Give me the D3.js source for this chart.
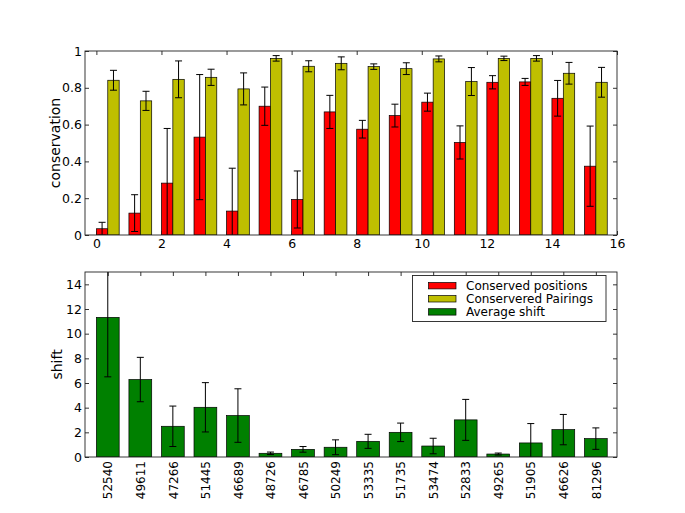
<!DOCTYPE html>
<html>
<head>
<meta charset="utf-8">
<script src="https://cdn.jsdelivr.net/npm/d3@7"></script>
<style>
body { margin: 0; background: #fff; }
text { font-family: 'DejaVu Sans', sans-serif; fill: #000; }
</style>
</head>
<body>
<svg width="685" height="513"></svg>
<script>
// values
let positions    = [0.034, 0.119, 0.282, 0.532, 0.130, 0.700, 0.193, 0.669, 0.575, 0.649, 0.722, 0.503, 0.830, 0.832, 0.743, 0.374]
let positionsErr = [0.035, 0.100, 0.297, 0.340, 0.233, 0.104, 0.155, 0.090, 0.048, 0.062, 0.049, 0.090, 0.036, 0.019, 0.097, 0.218]
let pairings     = [0.841, 0.729, 0.846, 0.857, 0.794, 0.960, 0.917, 0.933, 0.915, 0.904, 0.957, 0.834, 0.960, 0.960, 0.879, 0.830]
let pairingsErr  = [0.054, 0.052, 0.100, 0.044, 0.087, 0.015, 0.030, 0.035, 0.015, 0.032, 0.016, 0.076, 0.012, 0.015, 0.059, 0.081]
let shiftIds = ['52540', '49611', '47266', '51445', '46689', '48726', '46785', '50249', '53335', '51735', '53474', '52833', '49265', '51905', '46626', '81296']
let shift    = [11.32, 6.28, 2.49, 4.03, 3.36, 0.30, 0.62, 0.79, 1.27, 2.00, 0.89, 3.01, 0.24, 1.14, 2.22, 1.49]
let shiftErr = [4.82, 1.80, 1.64, 2.00, 2.17, 0.10, 0.23, 0.60, 0.57, 0.75, 0.63, 1.66, 0.08, 1.57, 1.23, 0.87]
let legendLabels = ['Conserved positions', 'Conservered Pairings', 'Average shift']
let colors = ['#ff0000', '#bfbf00', '#008000']

let svg = d3.select('svg')
let box = {left: 85, right: 617}
let topBox = {top: 51, bottom: 235}
let botBox = {top: 272, bottom: 457}

let xScale = d3.scaleLinear().domain([-0.35, 16]).range([box.left, box.right])
let yTop = d3.scaleLinear().domain([0, 1]).range([topBox.bottom, topBox.top])
let yBot = d3.scaleLinear().domain([0, 15]).range([botBox.bottom, botBox.top])

let defs = svg.append('defs')
function clip(id, b) {
    defs.append('clipPath').attr('id', id)
        .append('rect')
        .attr('x', box.left).attr('y', b.top)
        .attr('width', box.right - box.left).attr('height', b.bottom - b.top)
}
clip('clipTop', topBox)
clip('clipBot', botBox)

// inward ticks on all four sides
function frame(b, xAxisB, xAxisT, yScale, yTicks, yFmt) {
    let g = svg.append('g')
    g.append('g')
        .attr('transform', 'translate(0,' + b.bottom + ')')
        .call(xAxisB)
    g.append('g')
        .attr('transform', 'translate(0,' + b.top + ')')
        .call(xAxisT)
    g.append('g')
        .attr('transform', 'translate(' + box.left + ',0)')
        .call(d3.axisLeft(yScale).tickValues(yTicks).tickFormat(yFmt).tickSizeInner(-4).tickSizeOuter(0).tickPadding(3))
    g.append('g')
        .attr('transform', 'translate(' + box.right + ',0)')
        .call(d3.axisRight(yScale).tickValues(yTicks).tickFormat('').tickSizeInner(-4).tickSizeOuter(0))
    g.selectAll('.domain').remove()
    g.selectAll('.tick line').attr('stroke', '#000').attr('stroke-width', 0.8)
    g.selectAll('.tick text').style('font-size', '12.5px').attr('fill', '#000')
    return g
}

function border(b) {
    svg.append('rect')
        .attr('x', box.left).attr('y', b.top)
        .attr('width', box.right - box.left).attr('height', b.bottom - b.top)
        .attr('fill', 'none').attr('stroke', '#222').attr('stroke-width', 0.9)
}

function errorBars(g, data, xs, ys, errs, yScale) {
    let eb = g.selectAll(null).data(data).enter().append('g')
        .attr('stroke', '#000').attr('stroke-width', 1)
    eb.append('line')
        .attr('x1', (d, i) => xScale(xs(i))).attr('x2', (d, i) => xScale(xs(i)))
        .attr('y1', (d, i) => yScale(ys[i] - errs[i])).attr('y2', (d, i) => yScale(ys[i] + errs[i]))
    ;[1, -1].forEach(s => {
        eb.append('line')
            .attr('x1', (d, i) => xScale(xs(i)) - 3.5).attr('x2', (d, i) => xScale(xs(i)) + 3.5)
            .attr('y1', (d, i) => yScale(ys[i] + s * errs[i])).attr('y2', (d, i) => yScale(ys[i] + s * errs[i]))
    })
}

//Top panel
let w = 0.35
let idx = d3.range(positions.length)
let evenTicks = d3.range(0, 17, 2)
frame(topBox,
    d3.axisBottom(xScale).tickValues(evenTicks).tickFormat(d3.format('d')).tickSizeInner(-4).tickSizeOuter(0).tickPadding(4),
    d3.axisTop(xScale).tickValues(evenTicks).tickFormat('').tickSizeInner(-4).tickSizeOuter(0),
    yTop, d3.range(0, 1.01, 0.2), d => +d.toFixed(1) + '')

let topG = svg.append('g').attr('clip-path', 'url(#clipTop)')
;[[positions, positionsErr, 0, colors[0]], [pairings, pairingsErr, w, colors[1]]].forEach(([vals, errs, off, col]) => {
    topG.selectAll(null).data(vals).enter().append('rect')
        .attr('x', (d, i) => xScale(i + off))
        .attr('y', d => yTop(d))
        .attr('width', xScale(w) - xScale(0))
        .attr('height', d => yTop(0) - yTop(d))
        .attr('fill', col)
        .attr('stroke', '#000').attr('stroke-width', 0.7)
    errorBars(topG, vals, i => i + off + w / 2, vals, errs, yTop)
})
border(topBox)

svg.append('text')
    .attr('text-anchor', 'middle')
    .attr('transform', 'translate(60,' + (topBox.top + topBox.bottom) / 2 + ') rotate(-90)')
    .style('font-size', '14px')
    .text('conservation')

//Bottom panel
let bw = 0.7
let centers = idx.map(i => i + bw / 2)
let botAxis = frame(botBox,
    d3.axisBottom(xScale).tickValues(centers).tickFormat((d, i) => shiftIds[i]).tickSizeInner(-4).tickSizeOuter(0),
    d3.axisTop(xScale).tickValues(centers).tickFormat('').tickSizeInner(-4).tickSizeOuter(0),
    yBot, d3.range(0, 15, 2), d3.format('d'))
botAxis.select('g').selectAll('.tick text')
    .attr('transform', 'rotate(-90)')
    .attr('text-anchor', 'end')
    .attr('x', -4).attr('y', 0).attr('dy', '0.35em')
    .style('font-size', '12px')

let botG = svg.append('g').attr('clip-path', 'url(#clipBot)')
botG.selectAll(null).data(shift).enter().append('rect')
    .attr('x', (d, i) => xScale(i))
    .attr('y', d => yBot(d))
    .attr('width', xScale(bw) - xScale(0))
    .attr('height', d => yBot(0) - yBot(d))
    .attr('fill', colors[2])
    .attr('stroke', '#000').attr('stroke-width', 0.7)
errorBars(botG, shift, i => i + bw / 2, shift, shiftErr, yBot)
border(botBox)

svg.append('text')
    .attr('text-anchor', 'middle')
    .attr('transform', 'translate(62,' + (botBox.top + botBox.bottom) / 2 + ') rotate(-90)')
    .style('font-size', '14px')
    .text('shift')

//Legend
let legend = svg.append('g').attr('transform', 'translate(412.5,275.5)')
legend.append('rect')
    .attr('width', 193.5).attr('height', 46)
    .attr('fill', '#fff').attr('stroke', '#222').attr('stroke-width', 0.9)
legendLabels.forEach((t, i) => {
    let y = 10.2 + i * 13.1
    legend.append('rect')
        .attr('x', 16).attr('y', y - 3.2).attr('width', 27.5).attr('height', 6.4)
        .attr('fill', colors[i]).attr('stroke', '#000').attr('stroke-width', 0.7)
    legend.append('text')
        .attr('x', 53.5).attr('y', y).attr('dy', '0.35em')
        .style('font-size', '12px')
        .text(t)
})
</script>
</body>
</html>
